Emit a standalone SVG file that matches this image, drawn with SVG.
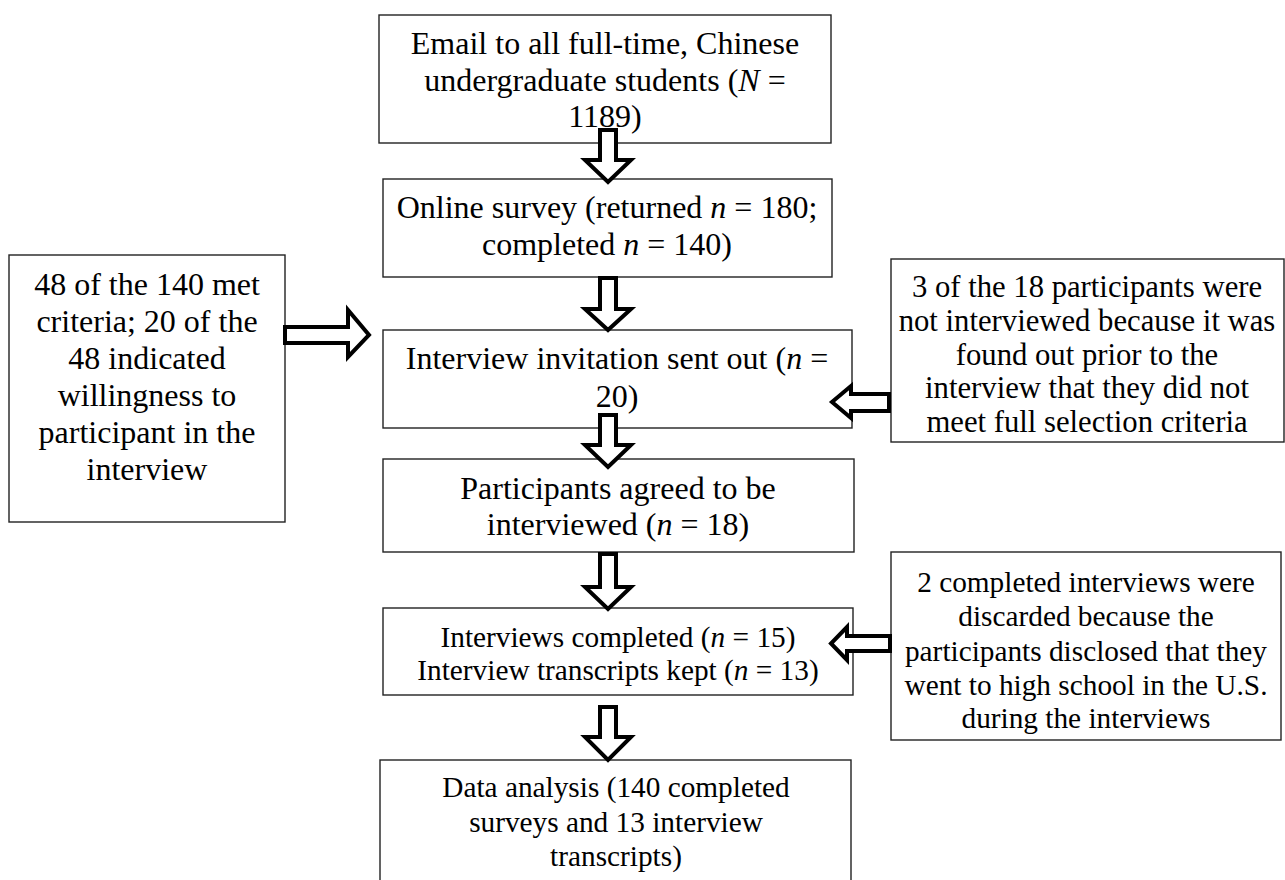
<svg xmlns="http://www.w3.org/2000/svg" width="1285" height="880" viewBox="0 0 1285 880">
<style>
.box{fill:#fff;stroke:#222;stroke-width:1.4}
.t{font-family:"Liberation Serif","Times New Roman",serif;fill:#000;text-anchor:middle}
.f32{font-size:32px}
.f31{font-size:30.7px}
.f29{font-size:29.3px}
.arr{fill:#fff;stroke:#000;stroke-width:4;stroke-linejoin:miter;stroke-miterlimit:10}
</style>
<rect width="1285" height="880" fill="#fff"/>
<g id="n1">
<rect class="box" x="379" y="15" width="452" height="128"/>
<text class="t f32" x="605" y="54">Email to all full-time, Chinese</text>
<text class="t f32" x="605" y="90.5">undergraduate students (<tspan font-style="italic">N</tspan> =</text>
<text class="t f32" x="605" y="127">1189)</text>
</g>
<g id="n2">
<rect class="box" x="383" y="179" width="449" height="98"/>
<text class="t f32" x="607" y="218">Online survey (returned <tspan font-style="italic">n</tspan> = 180;</text>
<text class="t f32" x="607" y="255">completed <tspan font-style="italic">n</tspan> = 140)</text>
</g>
<g id="n_left">
<rect class="box" x="9" y="255" width="276" height="267"/>
<text class="t f32" x="147" y="295">48 of the 140 met</text>
<text class="t f32" x="147" y="332">criteria; 20 of the</text>
<text class="t f32" x="147" y="369">48 indicated</text>
<text class="t f32" x="147" y="406">willingness to</text>
<text class="t f32" x="147" y="443">participant in the</text>
<text class="t f32" x="147" y="480">interview</text>
</g>
<g id="n3">
<rect class="box" x="383" y="330" width="469" height="98"/>
<text class="t f32" x="617" y="369">Interview invitation sent out (<tspan font-style="italic">n</tspan> =</text>
<text class="t f32" x="617" y="407">20)</text>
</g>
<g id="n_right1">
<rect class="box" x="891" y="259" width="393" height="183"/>
<text class="t f31" x="1087" y="297">3 of the 18 participants were</text>
<text class="t f31" x="1087" y="331">not interviewed because it was</text>
<text class="t f31" x="1087" y="365">found out prior to the</text>
<text class="t f31" x="1087" y="398">interview that they did not</text>
<text class="t f31" x="1087" y="432">meet full selection criteria</text>
</g>
<g id="n4">
<rect class="box" x="383" y="459" width="471" height="93"/>
<text class="t f32" x="618" y="499">Participants agreed to be</text>
<text class="t f32" x="618" y="535">interviewed (<tspan font-style="italic">n</tspan> = 18)</text>
</g>
<g id="n5">
<rect class="box" x="383" y="608" width="470" height="87"/>
<text class="t f29" x="618" y="647">Interviews completed (<tspan font-style="italic">n</tspan> = 15)</text>
<text class="t f29" x="618" y="680">Interview transcripts kept (<tspan font-style="italic">n</tspan> = 13)</text>
</g>
<g id="n_right2">
<rect class="box" x="891" y="552" width="390" height="188"/>
<text class="t f29" x="1086" y="592">2 completed interviews were</text>
<text class="t f29" x="1086" y="626">discarded because the</text>
<text class="t f29" x="1086" y="661">participants disclosed that they</text>
<text class="t f29" x="1086" y="695">went to high school in the U.S.</text>
<text class="t f29" x="1086" y="728">during the interviews</text>
</g>
<g id="n6">
<rect class="box" x="380" y="760" width="471" height="140"/>
<text class="t f29" x="616" y="797">Data analysis (140 completed</text>
<text class="t f29" x="616" y="832">surveys and 13 interview</text>
<text class="t f29" x="616" y="866">transcripts)</text>
</g>
<g id="connectors">
<path class="arr" d="M600,130 H616 V160 H631 L608,182 L585,160 H600 Z"/>
<path class="arr" d="M600,278 H616 V309 H631 L608,330 L585,309 H600 Z"/>
<path class="arr" d="M600,415 H616 V445 H631 L608,467 L585,445 H600 Z"/>
<path class="arr" d="M600,554 H616 V587 H631 L608,609 L585,587 H600 Z"/>
<path class="arr" d="M600,707 H616 V737 H631 L608,760 L585,737 H600 Z"/>
<path class="arr" d="M285,327 V343 H348 V357 L369,335 L348,310 V327 Z"/>
<path class="arr" d="M889,394 V411 H851 V418 L832,402 L851,386 V394 Z"/>
<path class="arr" d="M890,636 V651 H847 V660 L831,643.5 L847,627 V636 Z"/>
</g>
</svg>
